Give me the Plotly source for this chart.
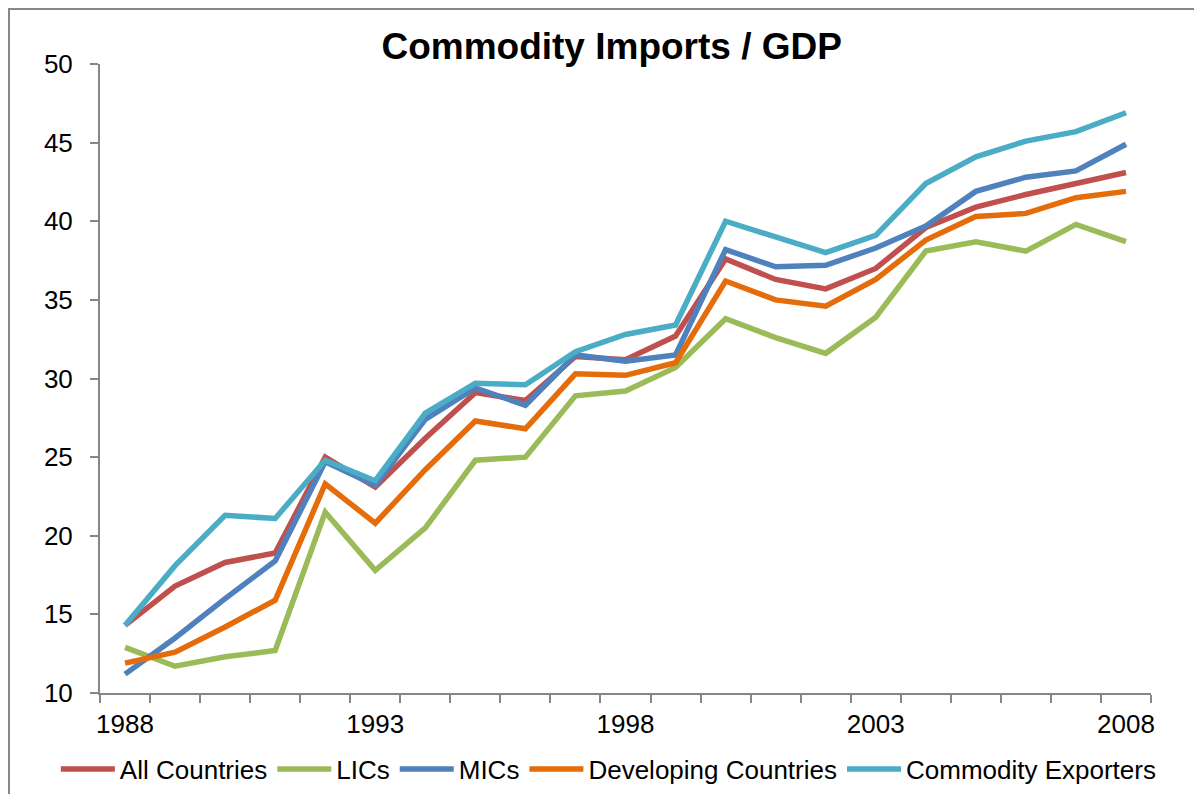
import plotly.graph_objects as go

years = list(range(1988, 2009))

all_countries = [14.3, 16.8, 18.3, 18.9, 25.0, 23.1, 26.2, 29.1, 28.6, 31.4, 31.2,
                 32.7, 37.6, 36.3, 35.7, 37.0, 39.6, 40.9, 41.7, 42.4, 43.1]
lics = [12.9, 11.7, 12.3, 12.7, 21.5, 17.8, 20.5, 24.8, 25.0, 28.9, 29.2,
        30.7, 33.8, 32.6, 31.6, 33.9, 38.1, 38.7, 38.1, 39.8, 38.7]
mics = [11.2, 13.5, 16.0, 18.4, 24.7, 23.2, 27.4, 29.4, 28.3, 31.5, 31.1,
        31.5, 38.2, 37.1, 37.2, 38.3, 39.7, 41.9, 42.8, 43.2, 44.9]
developing = [11.9, 12.6, 14.2, 15.9, 23.3, 20.8, 24.2, 27.3, 26.8, 30.3, 30.2,
              31.0, 36.2, 35.0, 34.6, 36.3, 38.8, 40.3, 40.5, 41.5, 41.9]
commodity_exporters = [14.3, 18.1, 21.3, 21.1, 24.8, 23.5, 27.8, 29.7, 29.6, 31.7, 32.8,
                       33.4, 40.0, 39.0, 38.0, 39.1, 42.4, 44.1, 45.1, 45.7, 46.9]

series = [
    ("All Countries", all_countries, "#C0504D"),
    ("LICs", lics, "#9BBB59"),
    ("MICs", mics, "#4F81BD"),
    ("Developing Countries", developing, "#E46C0A"),
    ("Commodity Exporters", commodity_exporters, "#4BACC6"),
]

label_years = [1988, 1993, 1998, 2003, 2008]
y_ticks = list(range(10, 55, 5))

fig = go.Figure()
for name, values, color in series:
    fig.add_trace(go.Scatter(
        x=years,
        y=values,
        name=name,
        mode="lines",
        line=dict(color=color, width=5.5),
    ))

axis_gray = "#868686"
font_main = "Liberation Sans, Arial, sans-serif"

fig.update_layout(
    width=1186,
    height=786,
    margin=dict(l=92, r=43, t=56, b=101, autoexpand=False),
    paper_bgcolor="white",
    plot_bgcolor="white",
    font=dict(family=font_main, size=26, color="black"),
    title=dict(
        text="<b>Commodity Imports / GDP</b>",
        x=0.509,
        xanchor="center",
        y=0.9517,
        yanchor="middle",
        font=dict(size=37, family=font_main, color="black"),
    ),
    showlegend=True,
    legend=dict(
        orientation="h",
        x=-0.042,
        xanchor="left",
        y=-0.121,
        yanchor="middle",
        font=dict(size=26),
        tracegroupgap=0,
        itemwidth=54,
    ),
    xaxis={
        "range": [1987.5, 2008.5],
        "tickvals": label_years,
        "ticktext": [str(y) for y in label_years],
        "ticks": "",
        "ticklabelstandoff": 7,
        "showgrid": False,
        "zeroline": False,
        "showline": True,
        "linecolor": axis_gray,
        "linewidth": 2,
        "minor": {
            "tickvals": [y - 0.5 for y in years] + [2008.5],
            "ticks": "outside",
            "ticklen": 8,
            "tickcolor": axis_gray,
            "tickwidth": 2,
            "showgrid": False,
        },
        "fixedrange": True,
    },
    yaxis={
        "range": [10, 50],
        "tickvals": y_ticks,
        "ticks": "outside",
        "ticklen": 8,
        "tickcolor": axis_gray,
        "tickwidth": 2,
        "ticklabelstandoff": 12,
        "showgrid": False,
        "zeroline": False,
        "showline": True,
        "linecolor": axis_gray,
        "linewidth": 2,
        "fixedrange": True,
    },
    shapes=[
        dict(
            type="rect",
            xref="paper",
            yref="paper",
            x0=-0.0866,
            x1=1.2,
            y0=-0.4,
            y1=1.0875,
            line=dict(color=axis_gray, width=2),
            fillcolor="rgba(0,0,0,0)",
            layer="below",
        )
    ],
)

fig.write_html("out.html")
